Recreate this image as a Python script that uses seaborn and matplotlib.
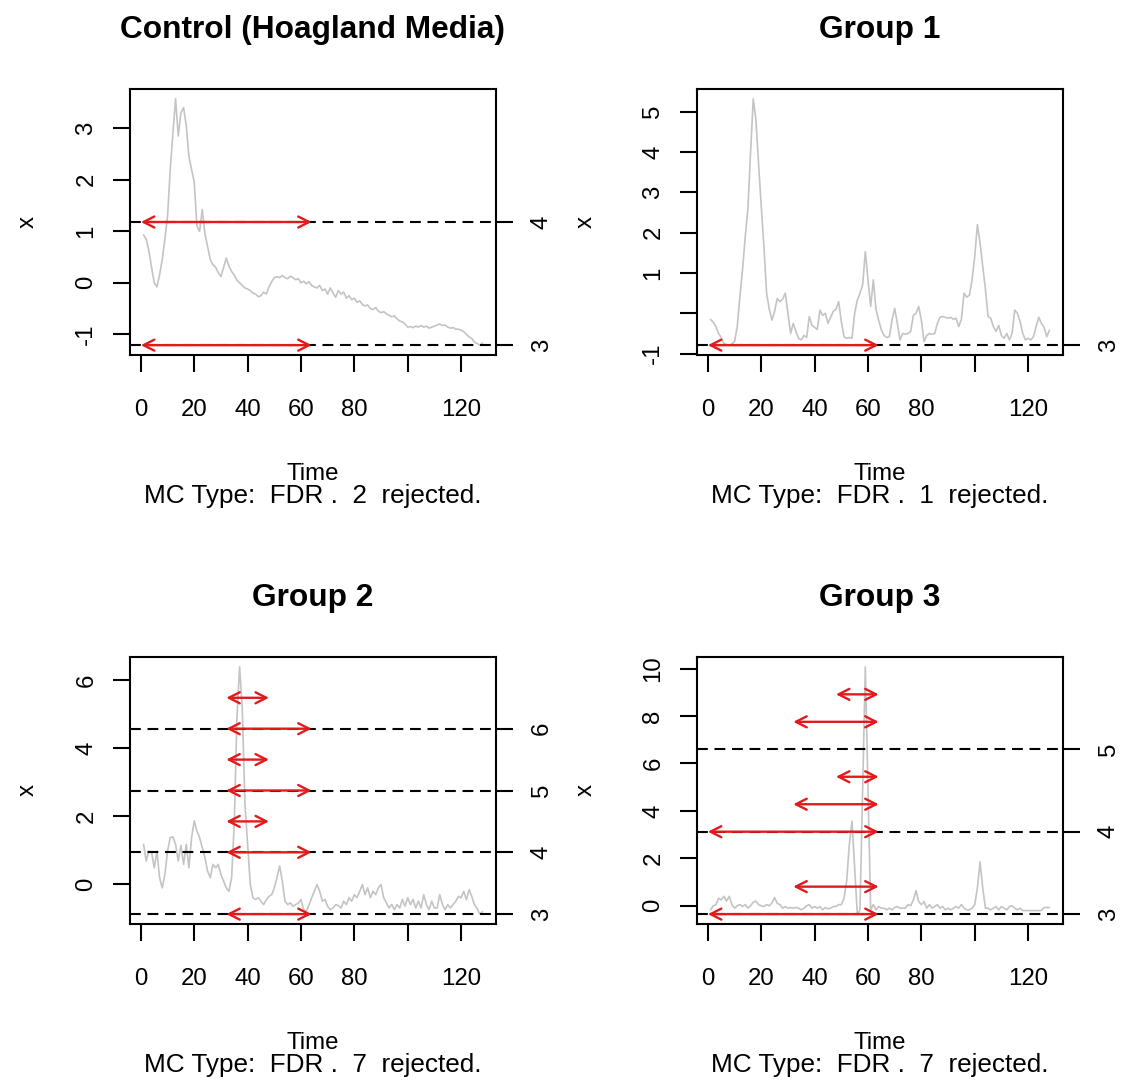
import numpy as np
import pandas as pd
import matplotlib
matplotlib.use("Agg")
import matplotlib.pyplot as plt
import seaborn as sns

sns.set_theme(style="white")
plt.rcParams['font.family'] = ['Liberation Sans', 'DejaVu Sans']

# ---------------- data ----------------
time = np.arange(1, 129)

ctrl = [0.93, 0.85, 0.62, 0.30, 0.00, -0.08, 0.15, 0.45, 0.85, 1.30,
        2.20, 2.90, 3.57, 2.85, 3.30, 3.40, 3.05, 2.45, 2.20, 1.95,
        1.10, 1.00, 1.42, 0.95, 0.70, 0.45, 0.35, 0.30, 0.20, 0.12,
        0.30, 0.48, 0.32, 0.22, 0.15, 0.05, 0.00, -0.05, -0.10, -0.12,
        -0.15, -0.20, -0.22, -0.27, -0.25, -0.18, -0.22, -0.08, 0.02, 0.10,
        0.12, 0.10, 0.14, 0.10, 0.08, 0.13, 0.10, 0.06, 0.08, 0.00,
        0.03, -0.02, 0.02, -0.05, -0.08, -0.10, -0.05, -0.15, -0.12, -0.22,
        -0.10, -0.20, -0.28, -0.15, -0.22, -0.18, -0.30, -0.25, -0.33, -0.30,
        -0.38, -0.35, -0.42, -0.45, -0.43, -0.50, -0.52, -0.48, -0.55, -0.58,
        -0.56, -0.60, -0.63, -0.66, -0.64, -0.70, -0.74, -0.76, -0.80, -0.86,
        -0.85, -0.87, -0.84, -0.86, -0.83, -0.86, -0.84, -0.88, -0.86, -0.84,
        -0.82, -0.80, -0.83, -0.82, -0.86, -0.88, -0.87, -0.90, -0.90, -0.92,
        -0.95, -1.00, -1.05, -1.08, -1.15, -1.18, -1.21, -1.17]

group1 = [-0.15, -0.22, -0.33, -0.50, -0.60, -0.75, -0.77, -0.79, -0.76, -0.70,
          -0.33, 0.41, 1.10, 1.90, 2.60, 4.00, 5.32, 4.80, 3.70, 2.65,
          1.66, 0.50, 0.10, -0.17, 0.05, 0.37, 0.29, 0.35, 0.50, 0.00,
          -0.50, -0.25, -0.45, -0.62, -0.66, -0.55, -0.60, -0.08, -0.30, -0.35,
          -0.40, 0.08, -0.05, 0.00, -0.25, -0.10, 0.05, 0.10, 0.29, -0.20,
          -0.58, -0.62, -0.60, -0.62, 0.00, 0.33, 0.50, 0.70, 1.53, 0.83,
          0.17, 0.83, 0.10, -0.17, -0.41, -0.55, -0.60, -0.58, -0.17, 0.12,
          -0.25, -0.66, -0.50, -0.52, -0.50, -0.45, -0.05, 0.00, 0.17, -0.17,
          -0.70, -0.55, -0.50, -0.52, -0.50, -0.25, -0.10, -0.08, -0.10, -0.12,
          -0.10, -0.15, -0.12, -0.33, -0.15, 0.50, 0.40, 0.45, 0.83, 1.41,
          2.20, 1.74, 1.16, 0.60, -0.08, -0.12, -0.33, -0.45, -0.30, -0.55,
          -0.62, -0.50, -0.66, -0.50, 0.08, 0.00, -0.20, -0.50, -0.66, -0.62,
          -0.66, -0.58, -0.33, -0.10, -0.25, -0.35, -0.58, -0.42]

group2 = [1.18, 0.69, 0.98, 0.95, 0.49, 0.98, 0.20, -0.10, 0.30, 0.98,
          1.38, 1.40, 1.18, 0.69, 1.15, 0.59, 1.18, 0.49, 1.38, 1.87,
          1.57, 1.38, 1.08, 0.79, 0.39, 0.20, 0.59, 0.49, 0.59, 0.29,
          0.10, -0.10, -0.20, 0.20, 1.80, 4.92, 6.39, 5.15, 2.36, 1.20,
          0.00, -0.39, -0.44, -0.39, -0.49, -0.59, -0.45, -0.35, -0.30, -0.10,
          0.20, 0.54, 0.10, -0.49, -0.59, -0.54, -0.64, -0.59, -0.55, -0.44,
          -0.74, -0.79, -0.60, -0.39, -0.20, 0.00, -0.20, -0.49, -0.44, -0.64,
          -0.74, -0.69, -0.59, -0.62, -0.69, -0.49, -0.59, -0.39, -0.49, -0.30,
          -0.39, -0.20, 0.00, -0.30, -0.10, -0.39, -0.20, -0.30, -0.10, 0.00,
          -0.39, -0.54, -0.69, -0.59, -0.74, -0.59, -0.69, -0.44, -0.64, -0.39,
          -0.59, -0.44, -0.69, -0.49, -0.69, -0.30, -0.59, -0.74, -0.49, -0.69,
          -0.69, -0.30, -0.59, -0.74, -0.59, -0.69, -0.59, -0.49, -0.35, -0.39,
          -0.20, -0.45, -0.15, -0.35, -0.60, -0.70, -0.87, -0.80]

group3 = [-0.17, 0.00, 0.04, 0.32, 0.25, 0.40, 0.20, 0.40, 0.05, -0.10,
          0.00, 0.05, -0.03, 0.05, -0.10, 0.00, 0.15, 0.20, 0.05, 0.00,
          -0.03, 0.05, 0.00, 0.12, 0.35, 0.10, 0.05, -0.10, -0.03, -0.10,
          -0.07, -0.10, -0.07, -0.10, -0.17, -0.10, 0.00, 0.05, -0.10, -0.03,
          -0.10, -0.03, -0.17, -0.07, -0.13, -0.10, -0.03, -0.03, 0.05, 0.05,
          0.32, 1.03, 2.58, 3.57, 1.60, -0.35, -0.17, 4.90, 10.07, 4.85,
          -0.17, 0.05, -0.17, -0.03, -0.10, -0.10, -0.17, -0.10, -0.17, -0.07,
          -0.03, -0.10, -0.10, -0.10, 0.05, 0.00, 0.25, 0.64, 0.18, 0.05,
          0.18, -0.10, 0.05, -0.10, -0.03, 0.05, -0.10, -0.03, -0.17, -0.10,
          -0.17, -0.10, -0.03, -0.10, 0.05, -0.10, -0.17, -0.17, -0.10, 0.05,
          0.75, 1.85, 0.75, -0.10, -0.10, -0.17, -0.10, -0.03, -0.17, -0.03,
          -0.10, -0.17, -0.03, 0.00, -0.10, -0.17, -0.10, -0.20, -0.20, -0.20,
          -0.20, -0.20, -0.20, -0.20, -0.20, -0.07, -0.07, -0.07]

series = [ctrl, group1, group2, group3]
titles = ["Control (Hoagland Media)", "Group 1", "Group 2", "Group 3"]
mc_type = "FDR"
rejected = [2, 1, 7, 7]

# number of scale divisions between series min and max (right axis = level)
level_divisions = [2, 1, 4, 3]
level_ticks = [[3, 4], [3], [3, 4, 5, 6], [3, 4, 5]]

# rejected intervals: start, end (time) and level (right axis)
arrow_start = [[0, 0],
               [0],
               [32, 32, 32, 32, 32, 32, 32],
               [0, 32, 0, 32, 48, 32, 48]]
arrow_end = [[64, 64],
             [64],
             [64, 64, 48, 64, 48, 64, 48],
             [64, 64, 64, 64, 64, 64, 64]]
arrow_level = [[3, 4],
               [3],
               [3, 4, 4.5, 5, 5.5, 6, 6.5],
               [3, 3 + 1/3, 4, 4 + 1/3, 4 + 2/3, 5 + 1/3, 5 + 2/3]]

ytick_vals = [[-1, 0, 1, 2, 3],
              [-1, 0, 1, 2, 3, 4, 5],
              [0, 2, 4, 6],
              [0, 2, 4, 6, 8, 10]]
ytick_labels = [["-1", "0", "1", "2", "3"],
                ["-1", "", "1", "2", "3", "4", "5"],
                ["0", "2", "4", "6"],
                ["0", "2", "4", "6", "8", "10"]]
xtick_vals = [0, 20, 40, 60, 80, 100, 120]
xtick_labels = ["0", "20", "40", "60", "80", "", "120"]

# ---------------- layout (pixels) ----------------
W, H = 1134, 1089
boxes = [(130, 89, 366, 266), (697, 89, 366, 266),
         (130, 657, 366, 267), (697, 657, 366, 267)]
ylab_x = [-0.279, -0.305, -0.279, -0.305]

FS = 17.3
SUBFS = 18.8
TFS = 22.8
LW = 1.5

fig = plt.figure(figsize=(W / 100, H / 100), dpi=100)

for i in range(4):
    L, T, w, h = boxes[i]
    ax = fig.add_axes([L / W, 1 - (T + h) / H, w / W, h / H])
    df = pd.DataFrame({"Time": time, "x": series[i]})
    sns.lineplot(data=df, x="Time", y="x", ax=ax, color="#C4C4C4",
                 linewidth=1.2, zorder=1)
    vals = np.asarray(series[i])
    lo, hi = vals.min(), vals.max()
    rng = hi - lo
    n0 = len(time) - 1
    ax.set_xlim(time[0] - 0.04 * n0, time[-1] + 0.04 * n0)
    ax.set_ylim(lo - 0.04 * rng, hi + 0.04 * rng)

    ax.set_xticks(xtick_vals)
    ax.set_xticklabels(xtick_labels)
    ax.set_yticks(ytick_vals[i])
    ax.set_yticklabels(ytick_labels[i])
    ax.tick_params(axis="both", which="major", direction="out", length=12,
                   width=LW, color="black", labelsize=FS, labelcolor="black",
                   bottom=True, left=True)
    ax.tick_params(axis="x", pad=20)
    ax.tick_params(axis="y", pad=11.5, labelrotation=90)
    for lab in ax.get_yticklabels():
        lab.set_va("center")
    for sp in ax.spines.values():
        sp.set_visible(True)
        sp.set_color("black")
        sp.set_linewidth(LW)

    # level axis on the right
    nd = level_divisions[i]
    ax2 = ax.twinx()
    ax2.set_ylim(3 - 0.04 * nd, 3 + nd + 0.04 * nd)
    ax2.set_yticks(level_ticks[i])
    ax2.set_yticklabels([str(v) for v in level_ticks[i]])
    ax2.tick_params(axis="y", direction="out", length=12, width=LW,
                    color="black", labelsize=FS, labelcolor="black",
                    right=True, pad=13, labelrotation=90)
    for lab in ax2.get_yticklabels():
        lab.set_va("center")
    for sp in ax2.spines.values():
        sp.set_visible(False)
    for lev in level_ticks[i]:
        ax2.axhline(lev, color="black", linewidth=LW, dashes=(5.2, 3.2),
                    zorder=2)
    for s, e, lev in zip(arrow_start[i], arrow_end[i], arrow_level[i]):
        ax2.annotate("", xy=(e, lev), xytext=(s, lev),
                     arrowprops=dict(arrowstyle="<->,head_length=0.65,head_width=0.33",
                                     color="#E31A1C", lw=1.7, shrinkA=0, shrinkB=0,
                                     mutation_scale=12),
                     zorder=3)

    ax.set_title(titles[i], fontsize=TFS, fontweight="bold", pad=37,
                 color="black")
    ax.set_xlabel("Time", fontsize=FS, color="black")
    ax.xaxis.set_label_coords(0.5, -125 / h)
    ax.xaxis.label.set_va("baseline")
    ax.set_ylabel("x", fontsize=FS, color="black")
    ax.yaxis.set_label_coords(ylab_x[i], 0.5)
    ax.yaxis.label.set_va("center")
    ax.text(0.5, -148 / h,
            f"MC Type:  {mc_type} .  {rejected[i]}  rejected.",
            transform=ax.transAxes, ha="center", va="baseline",
            fontsize=SUBFS, color="black")

fig.savefig("out.png", dpi=100, facecolor="white")
